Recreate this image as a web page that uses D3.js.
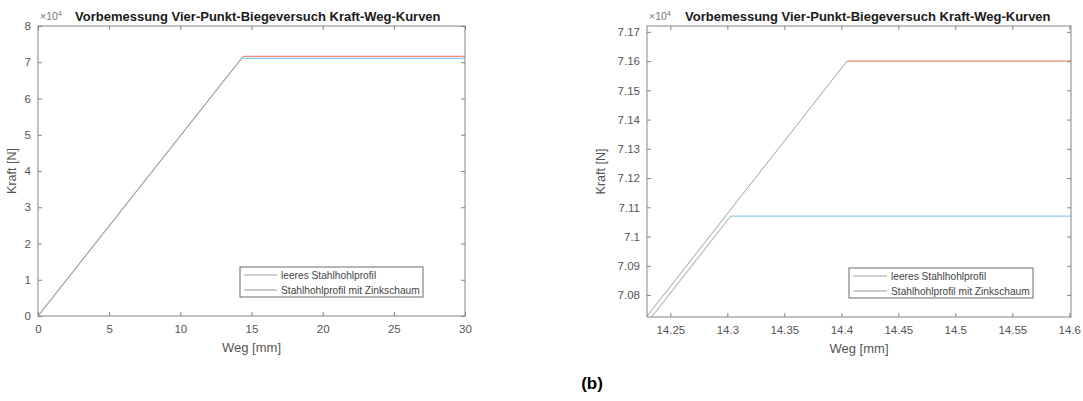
<!DOCTYPE html>
<html>
<head>
<meta charset="utf-8">
<script src="https://cdn.jsdelivr.net/npm/d3@7/dist/d3.min.js"></script>
<style>
  body { margin: 0; background: #fff; }
  svg { display: block; font-family: Arial, "Liberation Sans", sans-serif; }
</style>
</head>
<body>
<svg id="fig" width="1083" height="401"></svg>
<script>
// Kraft-Weg-Kurven (bilinear): Weg in mm, Kraft in N
const wegLeer = [0, 14.303, 30];
const kraftLeer = [0, 71070, 71070];
const wegZink = [0, 14.405, 30];
const kraftZink = [0, 71600, 71600];

const seriesNames = ["leeres Stahlhohlprofil", "Stahlhohlprofil mit Zinkschaum"];

const titleText = "Vorbemessung Vier-Punkt-Biegeversuch Kraft-Weg-Kurven";

// Gesamtansicht
const xTicksFull = [0, 5, 10, 15, 20, 25, 30];
const yTicksFull = [0, 10000, 20000, 30000, 40000, 50000, 60000, 70000, 80000];
const yTickLabelsFull = ["0", "1", "2", "3", "4", "5", "6", "7", "8"];

// Detailansicht um den Fliesspunkt
const xTicksZoom = [14.25, 14.3, 14.35, 14.4, 14.45, 14.5, 14.55, 14.6];
const xTickLabelsZoom = ["14.25", "14.3", "14.35", "14.4", "14.45", "14.5", "14.55", "14.6"];
const yTicksZoom = [70800, 70900, 71000, 71100, 71200, 71300, 71400, 71500, 71600, 71700];
const yTickLabelsZoom = ["7.08", "7.09", "7.1", "7.11", "7.12", "7.13", "7.14", "7.15", "7.16", "7.17"];

const svg = d3.select("#fig");

const styles = [
  { rise: "#c2c2c2", rw: 1.3, plateau: "#8cc8ea", legend: "#cfcfcf", lw: 2 },
  { rise: "#a0a0a0", rw: 1.0, plateau: "#ec8a74", legend: "#9a9a9a", lw: 1 }
];

function drawPanel(cfg) {
  const g = svg.append("g");
  const x = d3.scaleLinear().domain(cfg.xDomain).range([cfg.left, cfg.right]);
  const y = d3.scaleLinear().domain(cfg.yDomain).range([cfg.bottom, cfg.top]);
  const clipId = "clip" + cfg.id;
  svg.append("defs").append("clipPath").attr("id", clipId)
    .append("rect").attr("x", cfg.left).attr("y", cfg.top)
    .attr("width", cfg.right - cfg.left).attr("height", cfg.bottom - cfg.top);

  const data = [
    d3.zip(wegLeer, kraftLeer),
    d3.zip(wegZink, kraftZink)
  ];
  const line = d3.line().x(d => x(d[0])).y(d => y(d[1]));
  const plot = g.append("g").attr("clip-path", `url(#${clipId})`);
  data.forEach((pts, i) => {
    const s = styles[i];
    plot.append("path").attr("d", line(pts.slice(0, 2)))
      .attr("fill", "none").attr("stroke", s.rise).attr("stroke-width", s.rw);
    plot.append("path").attr("d", line(pts.slice(1)))
      .attr("fill", "none").attr("stroke", s.plateau).attr("stroke-width", 1.3);
  });

  const axisColor = "#858585";
  const labelColor = "#555";
  const tl = 4;

  // Box
  g.append("rect").attr("x", cfg.left).attr("y", cfg.top)
    .attr("width", cfg.right - cfg.left).attr("height", cfg.bottom - cfg.top)
    .attr("fill", "none").attr("stroke", axisColor).attr("stroke-width", 1);

  // X-Achse (Ticks innen, oben und unten)
  const xa = d3.axisBottom(x).tickValues(cfg.xTicks).tickSize(-tl).tickPadding(9)
    .tickFormat((d, i) => cfg.xLabels[i]);
  const gx = g.append("g").attr("transform", `translate(0,${cfg.bottom})`).call(xa);
  const xt = d3.axisTop(x).tickValues(cfg.xTicks).tickSize(-tl).tickFormat("");
  const gxt = g.append("g").attr("transform", `translate(0,${cfg.top})`).call(xt);

  const ya = d3.axisLeft(y).tickValues(cfg.yTicks).tickSize(-tl).tickPadding(7)
    .tickFormat((d, i) => cfg.yLabels[i]);
  const gy = g.append("g").attr("transform", `translate(${cfg.left},0)`).call(ya);
  const yr = d3.axisRight(y).tickValues(cfg.yTicks).tickSize(-tl).tickFormat("");
  const gyr = g.append("g").attr("transform", `translate(${cfg.right},0)`).call(yr);

  [gx, gxt, gy, gyr].forEach(a => {
    a.select(".domain").remove();
    a.selectAll(".tick line").attr("stroke", axisColor);
    a.selectAll(".tick text").attr("fill", labelColor)
      .style("font-size", "11.5px").style("font-family", "Arial, 'Liberation Sans', sans-serif");
  });

  // Exponent
  const ex = g.append("text").attr("x", cfg.left + 2).attr("y", cfg.top - 6)
    .attr("fill", "#777").style("font-size", "10.5px");
  ex.append("tspan").text("\u00d710");
  ex.append("tspan").attr("dy", -4).style("font-size", "7.5px").text("4");

  // Titel
  g.append("text").attr("x", cfg.titleX).attr("y", cfg.top - 5)
    .attr("fill", "#1a1a1a").style("font-size", "13px").style("font-weight", "bold")
    .text(titleText);

  // Achsenbeschriftungen
  g.append("text").attr("x", (cfg.left + cfg.right) / 2).attr("y", cfg.bottom + 36)
    .attr("text-anchor", "middle").attr("fill", labelColor).style("font-size", "13px")
    .text("Weg [mm]");
  g.append("text")
    .attr("transform", `translate(${cfg.ylabX},${(cfg.top + cfg.bottom) / 2}) rotate(-90)`)
    .attr("text-anchor", "middle").attr("fill", labelColor).style("font-size", "12.5px")
    .text("Kraft [N]");

  // Legende
  const lg = g.append("g").attr("transform", `translate(${cfg.legX},${cfg.legY})`);
  lg.append("rect").attr("width", cfg.legW).attr("height", 30)
    .attr("fill", "#fff").attr("stroke", "#6a6a6a").attr("stroke-width", 1);
  seriesNames.forEach((name, i) => {
    const yy = 8 + i * 15;
    lg.append("line").attr("x1", 4).attr("x2", cfg.legLine).attr("y1", yy).attr("y2", yy)
      .attr("stroke", styles[i].legend).attr("stroke-width", styles[i].lw);
    lg.append("text").attr("x", cfg.legLine + 4).attr("y", yy + 3.5)
      .attr("fill", "#444").style("font-size", "10.2px").text(name);
  });
}

drawPanel({
  id: "a", left: 38, right: 465, top: 26, bottom: 316,
  xDomain: [0, 30], yDomain: [0, 80000],
  xTicks: xTicksFull, xLabels: xTicksFull.map(String),
  yTicks: yTicksFull, yLabels: yTickLabelsFull,
  titleX: 75, ylabX: 16,
  legX: 240, legY: 267, legW: 183, legLine: 37
});

drawPanel({
  id: "b", left: 647, right: 1071, top: 26, bottom: 317,
  xDomain: [14.2295, 14.6015], yDomain: [70725, 71720],
  xTicks: xTicksZoom, xLabels: xTickLabelsZoom,
  yTicks: yTicksZoom, yLabels: yTickLabelsZoom,
  titleX: 685, ylabX: 605,
  legX: 849, legY: 268, legW: 184, legLine: 38
});

svg.append("text").attr("x", 592).attr("y", 389).attr("text-anchor", "middle")
  .attr("fill", "#000").style("font-size", "17px").style("font-weight", "bold")
  .text("(b)");
</script>
</body>
</html>
